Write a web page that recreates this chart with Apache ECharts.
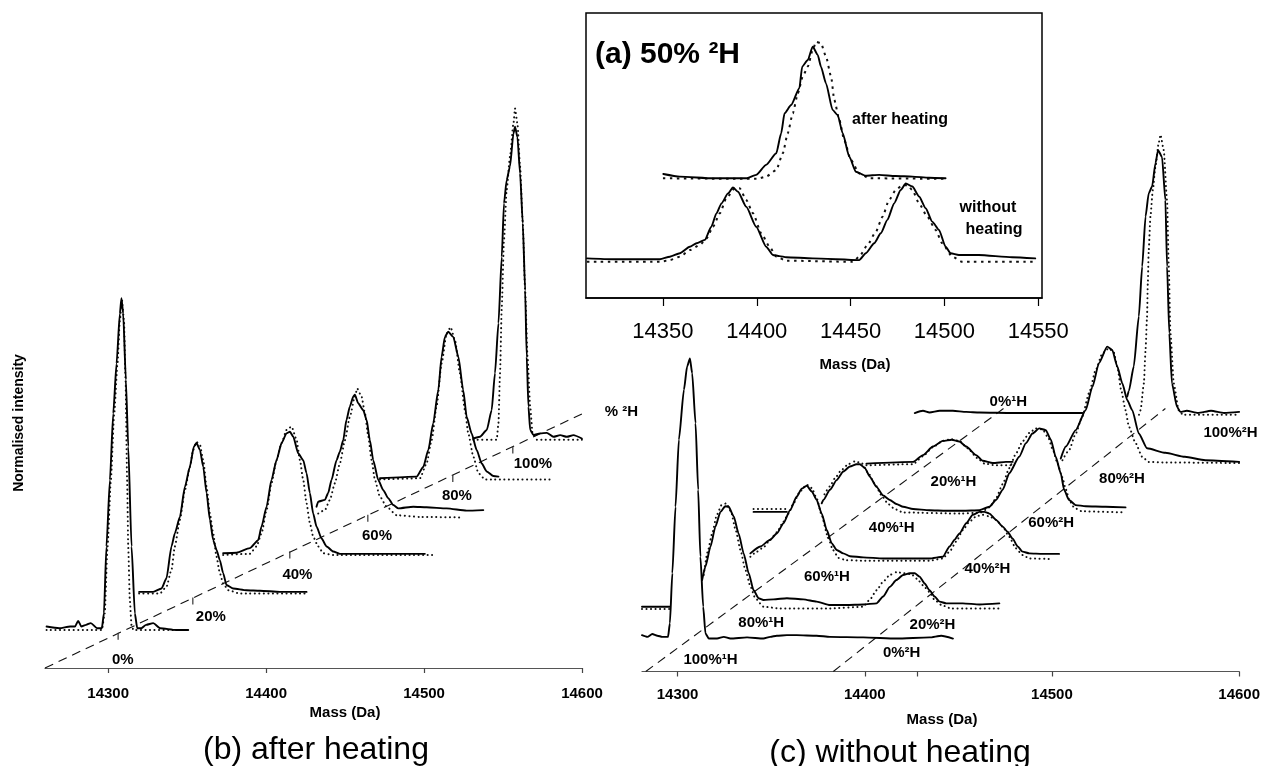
<!DOCTYPE html>
<html><head><meta charset="utf-8">
<script src="https://cdn.jsdelivr.net/npm/echarts@6/dist/echarts.min.js"></script>
<style>html,body{margin:0;padding:0;background:#fff}#chart{width:1263px;height:766px}</style>
</head><body><div id="chart"></div>
<script>
const FONT = '"Liberation Sans", Arial, Helvetica, sans-serif';

// ---------- Panel (b) after heating: [mass (Da, bottom axis), normalised intensity (offset)] ----------
const b0Solid = [[14261,7.3],[14269,7.0],[14276,7.3],[14279,7.3],[14281,8.3],[14283,7.3],[14286,7.6],[14289,7.9],[14293,7.0],[14296,7.0],[14297.3,9.6],[14298.9,21.4],[14301.1,33.1],[14303.2,44.8],[14305.3,53.6],[14307.4,62.4],[14308.4,65.1],[14309.5,62.4],[14311.2,50.7],[14312.7,39.0],[14314.8,21.4],[14316.9,9.6],[14318.4,7.0],[14321,7.0],[14324,7.6],[14328.5,7.9],[14333,7.0],[14343,6.7],[14350.7,6.7]];
const b0Dot = [[14261,6.7],[14296,6.7],[14297.8,9.6],[14299.6,21.4],[14301.7,33.1],[14303.8,44.8],[14305.9,53.6],[14307.4,61.2],[14308.7,64.8],[14310,61.2],[14311,50.7],[14312,33.1],[14312.7,21.4],[14313.7,12.0],[14314.8,7.5],[14316,6.7],[14351,6.7]];
const b20Solid = [[14319.6,13.4],[14328.5,13.4],[14333.8,14.0],[14336.9,15.8],[14340.1,21.4],[14342.2,23.7],[14345.4,26.6],[14348.6,31.9],[14351.7,35.4],[14354.3,39.0],[14355.9,39.6],[14358.1,38.4],[14360.2,35.4],[14362.3,30.8],[14364.4,26.1],[14366.5,22.5],[14368.6,20.8],[14370.7,19.0],[14372.8,16.7],[14374.9,14.6],[14379.2,14.0],[14387.6,13.7],[14396.1,13.6],[14408.7,13.4],[14425.6,13.4]];
const b20Dot = [[14319.6,13.1],[14332.7,13.1],[14336.9,14.3],[14340.1,17.3],[14342.2,21.4],[14345.4,26.1],[14348.6,31.3],[14351.7,35.4],[14353.8,38.4],[14355.9,39.8],[14358.1,39.3],[14360.2,36.6],[14362.3,31.9],[14364.4,27.2],[14366.5,23.7],[14368.6,19.6],[14370.7,16.7],[14372.8,14.9],[14376,13.7],[14383.4,13.1],[14425.6,13.1]];
const b40Solid = [[14372.8,20.2],[14381.3,20.3],[14389.7,21.1],[14395,22.5],[14397.1,24.9],[14400.3,28.4],[14403.4,33.1],[14406.6,36.6],[14409.8,39.6],[14412.9,41.3],[14415.1,41.6],[14417.2,40.7],[14420.3,37.8],[14423.5,36.6],[14425.6,34.3],[14427.7,30.8],[14429.8,27.2],[14431.9,24.9],[14435.1,22.8],[14438.3,21.4],[14442.5,20.5],[14446.7,20.1],[14455.2,20.1],[14476.3,20.1],[14500.5,20.1]];
const b40Dot = [[14372.8,19.9],[14389.7,20.1],[14393.9,21.4],[14397.1,23.7],[14400.3,27.8],[14403.4,32.5],[14406.6,36.6],[14409.8,39.6],[14412.9,41.9],[14416.1,42.5],[14419.3,40.2],[14421.4,36.6],[14423.5,33.1],[14425.6,29.0],[14427.7,25.5],[14429.8,23.1],[14433,21.4],[14436.2,20.2],[14442.5,19.9],[14505.8,19.9]];
const b60Solid = [[14431.9,28.4],[14433,29.3],[14437.2,29.6],[14439.3,30.8],[14441.4,33.1],[14444.6,36.6],[14446.7,38.1],[14448.8,40.1],[14450.9,43.7],[14453,46.0],[14455.2,47.8],[14456.2,48.1],[14458.3,46.6],[14461.5,45.4],[14463.6,43.7],[14465.7,40.1],[14467.8,36.6],[14471,33.1],[14474.2,31.3],[14477.3,29.9],[14480.5,28.7],[14483.7,28.1],[14493.2,28.4],[14501.6,28.3],[14514.3,28.1],[14526.9,27.7],[14537.5,27.8]];
const b60Dot = [[14433,27.2],[14437.2,27.8],[14440.4,29.6],[14443.5,32.5],[14446.7,36.0],[14449.9,40.1],[14453,44.2],[14456.2,47.8],[14457.7,49.2],[14460.4,47.8],[14462.6,44.8],[14464.7,40.7],[14466.8,36.6],[14468.9,33.1],[14472,30.2],[14476.3,28.4],[14482.6,26.9],[14497.4,26.6],[14524.8,26.5]];
const b80Solid = [[14472.1,33.4],[14495.3,33.7],[14499.5,35.4],[14502.7,38.4],[14505.8,43.1],[14509,48.9],[14511.1,54.8],[14513.2,58.3],[14515.3,59.2],[14518.5,58.3],[14521.7,54.8],[14524.8,48.9],[14527,44.2],[14530.1,41.3],[14533.3,38.4],[14536.5,36.0],[14539.7,34.6],[14543.9,33.8],[14547.1,33.7]];
const b80Dot = [[14472.1,33.2],[14497.4,33.4],[14501.6,36.0],[14504.8,40.1],[14507.9,46.0],[14511.1,53.6],[14514.3,58.9],[14516.8,60.0],[14519.6,57.7],[14522.7,51.9],[14525.9,45.4],[14528,41.3],[14531.2,37.2],[14534.4,34.3],[14538.6,33.2],[14579.8,33.2]];
const b100Solid = [[14531.2,40.4],[14535.4,40.7],[14539.7,41.9],[14542.8,45.4],[14544.9,51.9],[14547.1,60.7],[14549.2,72.4],[14550.6,81.8],[14552.3,85.9],[14554.4,88.3],[14556.6,94.1],[14557.6,95.3],[14559.1,93.5],[14560.8,87.1],[14562.5,78.3],[14564,66.5],[14565,54.8],[14566.1,46.0],[14567.2,41.9],[14569.3,41.0],[14573.5,41.3],[14577.7,41.4],[14581.9,40.7],[14586.2,41.0],[14590.4,40.7],[14594.6,41.0],[14599.9,40.4]];
const b100Dot = [[14531.2,40.2],[14546,40.2],[14547.1,43.1],[14548.1,51.9],[14549.2,63.6],[14550.6,75.4],[14552.3,84.2],[14554.4,90.0],[14556.6,95.9],[14557.6,98.5],[14559.1,95.9],[14560.8,88.3],[14562.5,78.3],[14564,66.5],[14565.5,54.8],[14567.2,46.0],[14568.7,41.3],[14571.4,40.2],[14599.9,40.2]];
const diagB = [[14260,0],[14605,45.4]];
const diagTicksB = [[14306.3,6.2],[14353.6,12.4],[14415,20.5],[14464.4,27.0],[14518.2,34.0],[14556.2,39.0]];
const diagLabelsB = ['0%','20%','40%','60%','80%','100%'];
const diagLabelPosB = [[14309.3,1.4],[14365,9.0],[14419.8,16.4],[14470.2,23.2],[14520.8,30.3],[14568.9,35.9]];
const axisNameB = '% ²H';
const axisNamePosB = [14625,45.1];
const ticksB = [14300,14400,14500,14600];

// ---------- Panel (c) without heating ----------
const c100Solid = [[14281,6.4],[14283.9,6.1],[14286.5,6.6],[14289.2,6.3],[14291.8,6.1],[14294.9,6.1],[14295.9,8.5],[14297.2,17.3],[14298.9,29.0],[14300.7,40.8],[14303.4,49.6],[14305.1,53.7],[14306.6,55.1],[14307.8,52.5],[14309.6,43.7],[14311,32.0],[14312.2,20.2],[14313.7,11.4],[14314.9,6.7],[14316.7,5.8],[14321.1,5.8],[14324.7,6.1],[14328.2,5.8],[14337.1,6.0],[14345.9,5.8],[14349.5,6.1],[14353,6.3],[14358.4,6.4],[14363.7,6.4],[14374.3,6.3],[14381.4,6.1],[14399.2,6.0],[14416.9,5.8],[14434.6,6.0],[14440.9,6.3],[14447.1,5.8]];
const c80Solid = [[14281,11.4],[14295.9,11.4],[14300,null],[14313.1,16.1],[14314.9,18.5],[14317.6,22.0],[14320.2,25.5],[14322.9,28.1],[14325.5,29.1],[14327.3,29.0],[14330,27.3],[14332.6,24.3],[14335.3,20.8],[14338,17.3],[14340.6,14.3],[14343.3,12.9],[14345.9,12.6],[14351.3,12.7],[14358.4,12.9],[14367.2,12.7],[14374.3,12.3],[14381.4,11.7],[14390.3,11.7],[14399.2,11.8],[14406.3,12.0],[14409.8,13.2],[14413.4,14.9],[14416.9,16.1],[14420.5,17.0],[14424,17.3],[14426.7,17.3],[14429.3,16.7],[14432,15.5],[14434.6,14.3],[14437.3,13.2],[14440,12.3],[14443.5,12.0],[14452.4,12.0],[14461.3,11.8],[14471.9,12.0]];
const c80Dot = [[14281,11.0],[14295.5,11.0],[14300,null],[14314,17.0],[14316,21.0],[14318.5,24.3],[14321,27.6],[14323.5,29.3],[14326,29.6],[14328.5,28.2],[14331,24.9],[14333.6,21.4],[14336.2,17.9],[14339,14.9],[14341.5,12.9],[14345.9,11.4],[14354.8,11.1],[14381.4,11.1],[14399,11.4],[14402.6,12.6],[14406.3,14.3],[14409.8,15.8],[14413.4,17.0],[14417,17.5],[14421,17.3],[14425,17.1],[14428,16.3],[14431,15.2],[14434.6,14.0],[14437.3,12.6],[14441,11.7],[14446,11.1],[14471.9,11.1]];
const c60Solid = [[14338.9,20.8],[14344.2,22.0],[14349.5,23.2],[14353,24.3],[14356.6,26.1],[14360.1,28.4],[14363.7,30.8],[14366.3,32.2],[14369,32.7],[14371.7,31.7],[14374.3,30.2],[14377,27.8],[14379.7,24.9],[14382.3,22.6],[14385,21.4],[14388.5,20.8],[14392.1,20.3],[14399.2,20.1],[14409.8,19.9],[14416.9,19.9],[14425.8,19.9],[14434.6,19.9],[14441.7,20.2],[14445.3,22.0],[14448,23.2],[14450.6,24.3],[14454.2,26.1],[14457.7,27.6],[14461.3,28.1],[14463.9,28.1],[14466.6,27.8],[14470.1,26.7],[14473.7,25.5],[14476.3,24.6],[14479,23.4],[14481.7,22.0],[14484.3,21.1],[14487.9,20.8],[14495,20.7],[14503.8,20.7]];
const c60Dot = [[14338.9,20.2],[14342.4,21.1],[14346,21.9],[14349.5,23.2],[14353,24.5],[14356.6,26.4],[14359.2,27.8],[14361.9,29.6],[14365.4,31.7],[14369,32.9],[14371.7,32.3],[14374.3,30.5],[14377,27.5],[14380,24.0],[14383,21.4],[14386,20.0],[14390,19.6],[14400,19.5],[14434.6,19.5],[14441.7,19.9],[14445.3,21.1],[14448.9,22.9],[14452.4,24.9],[14456,26.4],[14459.5,27.3],[14463,27.6],[14466.6,27.3],[14470.1,26.7],[14473.7,25.5],[14477.2,23.7],[14480.7,21.7],[14484.3,20.5],[14488,19.9],[14500,19.8]];
const c40Solid = [[14340.6,28.1],[14358.4,28.1],[14368,null],[14377,29.6],[14377.9,30.2],[14381.4,32.0],[14385,33.7],[14388.5,35.2],[14392.1,36.1],[14395.6,36.5],[14397.4,36.5],[14400.1,35.8],[14402.7,34.3],[14406.3,32.5],[14409.8,31.0],[14413.4,30.2],[14416.9,29.5],[14420.5,29.0],[14425.8,28.6],[14434.6,28.4],[14443.5,28.3],[14452.4,28.3],[14461.3,28.4],[14466.6,29.0],[14470.1,30.2],[14473.7,32.0],[14477.2,34.9],[14482.5,37.8],[14486.1,40.2],[14489.6,41.9],[14493.2,42.8],[14496.7,42.5],[14499.4,40.8],[14502,37.8],[14504.7,34.9],[14506.5,32.0],[14509.1,30.2],[14512.7,29.3],[14518,29.1],[14528.7,29.0],[14539.3,28.9]];
const c40Dot = [[14340.6,28.6],[14358.4,28.6],[14368,null],[14378.5,31.2],[14381.4,32.6],[14384,34.0],[14387.6,35.5],[14391.2,36.5],[14394.7,37.0],[14398.3,36.7],[14401.8,35.0],[14405.4,33.0],[14409,31.0],[14412.5,29.5],[14416,28.6],[14420.5,28.0],[14452,27.8],[14462,28.0],[14466.6,28.9],[14470.1,30.5],[14473.7,33.0],[14477.2,35.8],[14480.8,38.4],[14484.3,40.5],[14487.9,42.0],[14491.4,42.8],[14495,42.6],[14498,41.2],[14500.5,39.0],[14503,36.6],[14505.5,34.2],[14507.5,32.0],[14509.5,30.0],[14512,28.8],[14516,28.2],[14539.3,28.0]];
const c20Solid = [[14400.9,36.6],[14425.8,36.9],[14431.1,38.1],[14436.4,39.6],[14441.7,40.6],[14446.5,40.8],[14450.5,40.5],[14454.2,39.6],[14459.5,38.1],[14463,37.1],[14468.4,36.7],[14475.4,36.9],[14479,36.9],[14492,null],[14504.7,37.5],[14507.4,39.6],[14512.7,42.5],[14518,46.0],[14521.6,50.1],[14525.1,54.3],[14529.5,57.2],[14532.2,56.6],[14534.9,53.7],[14537.6,50.7],[14540.2,47.8],[14542.9,46.0],[14546.4,41.9],[14550.8,39.3],[14560.6,38.5],[14571,37.8],[14581.9,37.2],[14600,36.9]];
const c20Dot = [[14400.9,36.3],[14425.8,36.5],[14431.1,37.9],[14436.4,39.5],[14441.7,40.6],[14446,40.9],[14450.5,40.6],[14455,39.3],[14460,37.6],[14464,36.6],[14470,36.3],[14479,36.3],[14492,null],[14505.6,37.2],[14509.2,39.0],[14512.7,41.9],[14516.2,44.9],[14519.8,49.0],[14523.4,53.1],[14526.9,56.0],[14530.4,56.9],[14533,56.2],[14535,53.5],[14537,49.5],[14539.3,46.0],[14541.1,43.1],[14544.7,40.2],[14548.2,37.8],[14551.7,36.9],[14560.6,36.8],[14600,36.7]];
const c0Solid = [[14426.7,45.5],[14431.1,45.9],[14434.6,45.6],[14440,45.9],[14447.1,45.9],[14454.2,45.7],[14461.3,45.6],[14479,45.5],[14496.7,45.5],[14516.3,45.5],[14528,null],[14540.2,48.4],[14541.1,49.4],[14543.7,53.7],[14546.4,62.5],[14548.2,71.3],[14550,80.1],[14551.7,84.2],[14553.5,85.4],[14555.3,89.5],[14556.7,91.8],[14558.8,90.6],[14560.6,83.0],[14561.5,71.3],[14562.7,59.5],[14564.1,50.7],[14566.8,46.6],[14568.6,45.7],[14572,45.9],[14578,45.5],[14585,45.9],[14592,45.5],[14600,45.7]];
const c0Dot = [[14546.5,45.2],[14547.3,46.0],[14549.1,50.7],[14550,56.6],[14550.8,62.5],[14551.2,68.3],[14551.7,74.2],[14552.6,80.1],[14553.9,84.8],[14555.3,88.9],[14557,93.0],[14558,94.5],[14559.7,91.8],[14561.5,82.9],[14562.4,71.3],[14563.3,59.5],[14565.1,50.7],[14567.7,46.0],[14570,45.2],[14600,45.2]];
const diagC1 = [[14283,0],[14475.4,46.6]];
const diagC2 = [[14383.2,0],[14560.6,46.3]];
const labelsC = ['100%¹H','80%¹H','60%¹H','40%¹H','20%¹H','0%¹H','0%²H','20%²H','40%²H','60%²H','80%²H','100%²H'];
const labelPosC = [[14317.6,2.0],[14344.7,8.6],[14379.8,16.6],[14414.4,25.3],[14447.4,33.4],[14476.7,47.4],[14419.7,3.3],[14436.2,8.2],[14465.5,18.0],[14499.6,26.1],[14537.4,34.0],[14595.4,42.0]];
const ticksC = [14300,14400,14428,14500,14600];
const tickLabelsC = [14300,14400,14500,14600];

// ---------- Panel (a) inset, 50% 2H ----------
const aHeatSolid = [[14350.2,43.5],[14359,42.6],[14376.7,42.0],[14394.4,42.0],[14399.7,43.2],[14405,46.7],[14410.4,50.8],[14413,57.8],[14414.8,64.8],[14418.3,67.7],[14422.7,73.6],[14424.2,81.2],[14427.2,83.5],[14429.8,88.2],[14432.5,85.3],[14434.2,81.2],[14436.9,75.3],[14440.4,66.0],[14443.1,64.2],[14445.8,57.8],[14449.3,49.6],[14452.8,44.3],[14458.1,42.9],[14465.2,43.2],[14474,42.8],[14482.9,42.6],[14491.8,42.2],[14500.6,42.0]];
const aHeatDot = [[14350,42.0],[14400,41.8],[14405,42.6],[14410.4,44.9],[14413.9,50.8],[14416.5,57.8],[14419.2,64.8],[14421.9,71.8],[14424.5,77.7],[14427.2,81.2],[14429.8,87.0],[14431.6,89.9],[14434.2,89.4],[14436.9,84.7],[14439.6,77.7],[14441.3,69.5],[14444,62.5],[14446.6,55.4],[14450.2,48.4],[14454.6,43.7],[14459.9,42.0],[14500.6,41.8]];
const aRawSolid = [[14309.5,13.9],[14323.6,13.6],[14348.4,13.6],[14353.7,14.5],[14359,15.7],[14364.3,18.0],[14367.9,19.2],[14372.3,20.4],[14375.8,25.0],[14378.5,29.7],[14381.2,33.2],[14384.7,36.7],[14387.3,38.8],[14390,37.3],[14394.4,32.0],[14399.7,25.0],[14405,18.0],[14408.6,15.1],[14412.1,14.7],[14415.7,14.3],[14429.8,13.9],[14454.6,13.3],[14458.1,15.7],[14462.6,19.2],[14466.1,22.7],[14469.6,27.4],[14473.2,33.2],[14476.7,37.9],[14479.4,40.2],[14482.9,39.1],[14486.5,35.6],[14490,31.5],[14493.5,26.8],[14497.1,23.9],[14500.6,18.0],[14503.3,15.7],[14507.7,15.1],[14518.3,15.1],[14536,14.3],[14548.4,13.9]];
const aRawDot = [[14309.5,12.7],[14348.4,12.7],[14353.7,13.3],[14359,14.5],[14364.3,16.8],[14369.6,18.6],[14373.2,20.9],[14376.7,25.0],[14380.3,29.7],[14383.8,35.0],[14388.2,38.5],[14390.9,38.5],[14394.4,34.4],[14398,29.7],[14402.4,22.7],[14406.8,18.0],[14410.4,14.5],[14415.7,13.1],[14451.1,12.7],[14454.6,14.5],[14459,18.6],[14463.5,23.3],[14467,28.5],[14470.5,34.4],[14474.1,37.9],[14477.6,39.6],[14480.3,39.6],[14482.9,37.9],[14486.5,33.2],[14490.9,28.5],[14495.3,23.9],[14498.8,19.2],[14504.2,14.5],[14509.5,12.7],[14548.4,12.7]];
const ticksA = [14350,14400,14450,14500,14550];

// ---------- chart ----------
const chart = echarts.init(document.getElementById('chart'), null, {renderer: 'canvas'});

function trace(data, g, dotted, coarse) {
  return {
    type: 'line', xAxisIndex: g, yAxisIndex: g, data: data,
    symbol: 'none', showSymbol: false, smooth: 0.2, smoothMonotone: 'x',
    connectNulls: false, silent: true, animation: false, clip: false,
    lineStyle: dotted
      ? (coarse ? {color: '#111', width: 2, type: [2.5, 4.5], cap: 'butt'}
                : {color: '#111', width: 2, type: [0.1, 4.4], cap: 'round'})
      : {color: '#000', width: 1.9, join: 'round', cap: 'round'},
    z: dotted ? 5 : 6
  };
}
function dashed(data, g) {
  return {type: 'line', xAxisIndex: g, yAxisIndex: g, data: data, symbol: 'none',
    silent: true, animation: false, clip: false,
    lineStyle: {color: '#111', width: 1.1, type: [9, 6]}, z: 4};
}
function textPoints(names, pos, g, size) {
  return {type: 'scatter', xAxisIndex: g, yAxisIndex: g, symbol: 'circle', symbolSize: 0,
    silent: true, animation: false, clip: false,
    itemStyle: {color: '#000', opacity: 1},
    label: {show: true, position: 'inside', formatter: '{b}', color: '#000', opacity: 1,
      fontFamily: FONT, fontWeight: 'bold', fontSize: size || 15},
    data: names.map((n, i) => ({name: n, value: pos[i]})), z: 7};
}

function xAxisBase(g, min, max, ticks, labels, fs, margin, weight, tickLen) {
  return {type: 'value', gridIndex: g, min: min, max: max,
    axisLine: {show: true, onZero: false, lineStyle: {color: g === 2 ? '#000' : '#555', width: g === 2 ? 1.5 : 1.2}},
    axisTick: {show: true, length: tickLen, customValues: ticks, lineStyle: {color: g === 2 ? '#000' : '#444', width: 1.2}},
    axisLabel: {show: true, customValues: labels, color: '#000', fontFamily: FONT, fontSize: fs,
      fontWeight: weight, margin: margin, formatter: function (v) { return String(v); }},
    splitLine: {show: false}};
}

const option = {
  backgroundColor: '#fff',
  animation: false,
  grid: [
    {left: 45, right: 681, top: 100, bottom: 98},
    {left: 642, right: 22, top: 103.5, bottom: 94.5},
    {left: 586, right: 221, top: 13, bottom: 468, show: true, borderColor: '#000', borderWidth: 1.5, backgroundColor: 'transparent'}
  ],
  xAxis: [
    xAxisBase(0, 14260, 14600, ticksB, ticksB, 15, 18, 'bold', 5),
    xAxisBase(1, 14281, 14600, ticksC, tickLabelsC, 15, 16, 'bold', 5),
    xAxisBase(2, 14309, 14552, ticksA, ticksA, 22, 23, 'normal', 8)
  ],
  yAxis: [
    {type: 'value', gridIndex: 0, min: 0, max: 100, show: false},
    {type: 'value', gridIndex: 1, min: 0, max: 100, show: false},
    {type: 'value', gridIndex: 2, min: 0, max: 100, show: false}
  ],
  series: [
    // panel b
    dashed(diagB, 0),
    {type: 'scatter', xAxisIndex: 0, yAxisIndex: 0, symbol: 'rect', symbolSize: [1.2, 7], symbolOffset: [0, 3.5],
      silent: true, animation: false, itemStyle: {color: '#333', opacity: 1}, data: diagTicksB, z: 4},
    textPoints(diagLabelsB, diagLabelPosB, 0, 15),
    textPoints([axisNameB], [axisNamePosB], 0, 15),
    trace(b0Dot, 0, true), trace(b0Solid, 0, false),
    trace(b20Dot, 0, true), trace(b20Solid, 0, false),
    trace(b40Dot, 0, true), trace(b40Solid, 0, false),
    trace(b60Dot, 0, true), trace(b60Solid, 0, false),
    trace(b80Dot, 0, true), trace(b80Solid, 0, false),
    trace(b100Dot, 0, true), trace(b100Solid, 0, false),
    // panel c
    dashed(diagC1, 1), dashed(diagC2, 1),
    textPoints(labelsC, labelPosC, 1, 15),
    trace(c100Solid, 1, false),
    trace(c80Dot, 1, true), trace(c80Solid, 1, false),
    trace(c60Dot, 1, true), trace(c60Solid, 1, false),
    trace(c40Dot, 1, true), trace(c40Solid, 1, false),
    trace(c20Dot, 1, true), trace(c20Solid, 1, false),
    trace(c0Dot, 1, true), trace(c0Solid, 1, false),
    // panel a
    trace(aHeatDot, 2, true, true), trace(aHeatSolid, 2, false),
    trace(aRawDot, 2, true, true), trace(aRawSolid, 2, false)
  ],
  graphic: [
    {type: 'text', x: 19, y: 423, rotation: Math.PI / 2,
      style: {text: 'Normalised intensity', font: 'bold 14px ' + FONT, fill: '#000', align: 'center', verticalAlign: 'middle'}},
    {type: 'text', x: 345, y: 713, style: {text: 'Mass (Da)', font: 'bold 15px ' + FONT, fill: '#000', align: 'center', verticalAlign: 'middle'}},
    {type: 'text', x: 942, y: 720, style: {text: 'Mass (Da)', font: 'bold 15px ' + FONT, fill: '#000', align: 'center', verticalAlign: 'middle'}},
    {type: 'text', x: 855, y: 365, style: {text: 'Mass (Da)', font: 'bold 15px ' + FONT, fill: '#000', align: 'center', verticalAlign: 'middle'}},
    {type: 'text', x: 316, y: 750, style: {text: '(b) after heating', font: '32px ' + FONT, fill: '#000', align: 'center', verticalAlign: 'middle'}},
    {type: 'text', x: 900, y: 753, style: {text: '(c) without heating', font: '32px ' + FONT, fill: '#000', align: 'center', verticalAlign: 'middle'}},
    {type: 'text', x: 595, y: 55, z: 10, style: {text: '(a) 50% ²H', font: 'bold 30px ' + FONT, fill: '#000', align: 'left', verticalAlign: 'middle'}},
    {type: 'text', x: 852, y: 120, z: 10, style: {text: 'after heating', font: 'bold 16px ' + FONT, fill: '#000', align: 'left', verticalAlign: 'middle'}},
    {type: 'text', x: 988, y: 208, z: 10, style: {text: 'without', font: 'bold 16px ' + FONT, fill: '#000', align: 'center', verticalAlign: 'middle'}},
    {type: 'text', x: 994, y: 230, z: 10, style: {text: 'heating', font: 'bold 16px ' + FONT, fill: '#000', align: 'center', verticalAlign: 'middle'}}
  ]
};
chart.setOption(option);
</script>
</body></html>
